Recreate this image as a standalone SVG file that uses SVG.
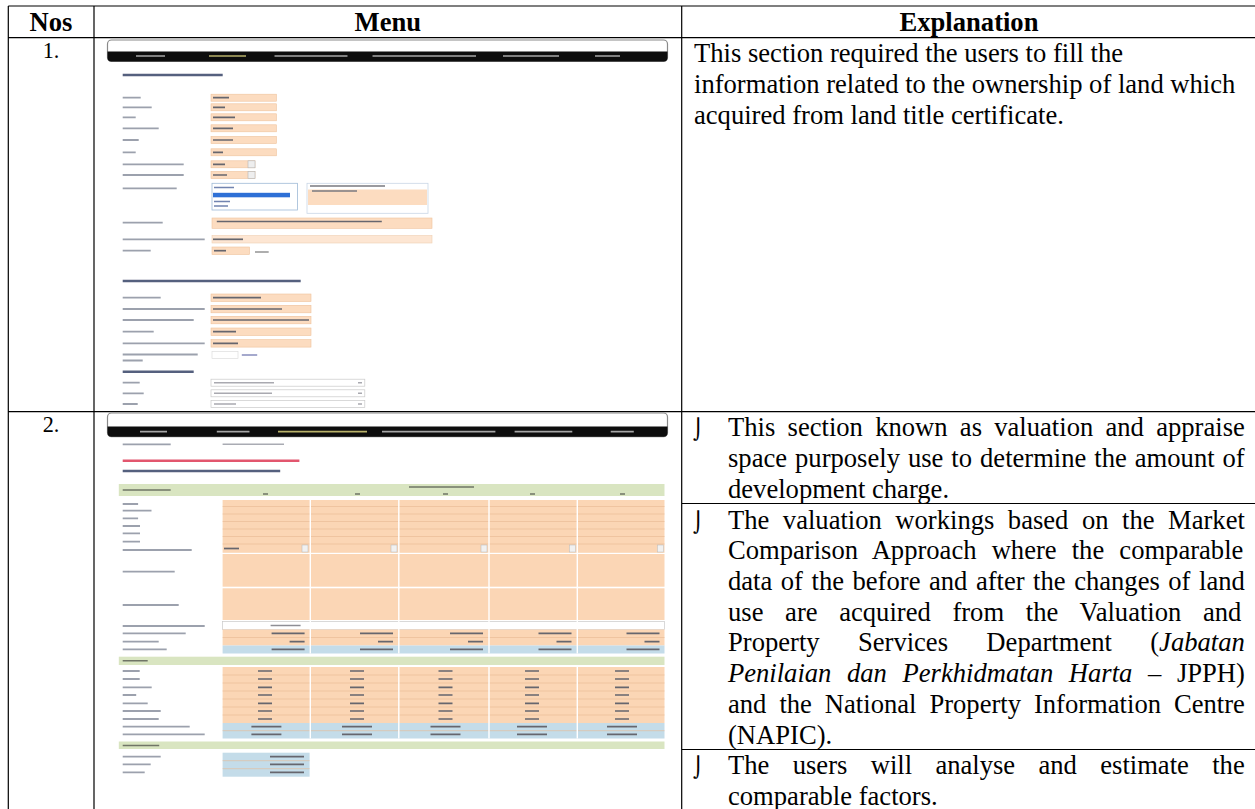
<svg xmlns="http://www.w3.org/2000/svg" width="1255" height="809" viewBox="0 0 1255 809">
<defs>
<style>
.hdr{font-family:"Liberation Serif","Times New Roman",serif;font-weight:bold;font-size:26.6px;text-anchor:middle;fill:#000}
.num{font-family:"Liberation Serif","Times New Roman",serif;font-size:22.2px;text-anchor:middle;fill:#000}
.body{font-family:"Liberation Serif","Times New Roman",serif;font-size:26.6px;fill:#000}
.it{font-style:italic}
.bul{font-family:"DejaVu Sans",sans-serif;font-size:20px;fill:#000}
.grid{stroke:#000;stroke-width:1.2;fill:none}
.lb{stroke:#9ca1ad;stroke-width:1.8;fill:none}
.dk{stroke:#66666e;stroke-width:1.7;fill:none}
.nv{stroke:#a6a6a6;stroke-width:1.7;fill:none}
.nva{stroke:#b9b26a;stroke-width:1.7;fill:none}
.hd{stroke:#55607e;stroke-width:2.4;fill:none}
.pe{fill:#fcdcc0;stroke:#efc29c;stroke-width:0.6}
.pg{fill:#fbd6b5}
.bl{fill:#c4dce9}
.gr{fill:#d9e5c1}
.sep{stroke:#e7b892;stroke-width:0.6;fill:none}
.wb{fill:#fff;stroke:#c9c9c9;stroke-width:0.7}
</style>
<filter id="soft" x="-2%" y="-2%" width="104%" height="104%"><feGaussianBlur stdDeviation="0.7"/></filter>
</defs>

<rect width="1255" height="809" fill="#fff"/>

<!-- table rules -->
<g id="table-grid" class="grid">
<path d="M8.3 6H1256M8.3 37.7H1256M8.3 411.7H1256M8.3 6V809M94 6V809M681.7 6V809M681.7 503.5H1256M681.7 749.5H1256"/>
</g>

<!-- header row -->
<g id="header">
<text class="hdr" x="51" y="30.7">Nos</text>
<text class="hdr" x="387.8" y="30.7">Menu</text>
<text class="hdr" x="969" y="30.7">Explanation</text>
</g>

<!-- row 1 -->
<g id="row-1">
<text class="num" x="51" y="58.3">1.</text>
<g id="menu-1-screenshot" filter="url(#soft)">
<!-- navigation bar -->
<rect x="107.5" y="40" width="560" height="21.5" rx="4" fill="#fff" stroke="#8a8a8a" stroke-width="1.2"/>
<path d="M107.5 51.5H667.5V57.5Q667.5 61.5 663.5 61.5H111.5Q107.5 61.5 107.5 57.5Z" fill="#0c0c0c"/>
<path class="nv" d="M136 56h29M274.5 56h73M372.5 56h103.5M503 56h56M595 56h25"/>
<path class="nva" d="M209 56h37"/>
<!-- section heading -->
<path class="hd" d="M122.7 75h100"/>
<!-- field labels -->
<path class="lb" d="M122.7 97.7h18M122.7 107.3h29M122.7 117.3h13M122.7 128.3h36M122.7 140h16M122.7 152.3h13M122.7 164.3h61M122.7 175h61M122.7 188.3h54M122.7 222.7h40M122.7 239.3h82M122.7 250.7h28M122.7 297.7h38M122.7 309h82M122.7 320h71M122.7 331.7h31M122.7 343.3h82M122.7 354.5h75M122.7 360.5h20M122.7 382.7h17M122.7 393.3h21M122.7 404h15"/>
<!-- input fields -->
<rect class="pe" x="211" y="94.2" width="65.4" height="7"/>
<rect class="pe" x="211" y="103.8" width="65.4" height="7"/>
<rect class="pe" x="211" y="113.8" width="65.4" height="7"/>
<rect class="pe" x="211" y="124.8" width="65.4" height="7"/>
<rect class="pe" x="211" y="136.5" width="65.4" height="7"/>
<rect class="pe" x="211" y="148.8" width="65.4" height="7"/>
<rect class="pe" x="211" y="160.8" width="44" height="7"/>
<rect class="pe" x="211" y="171.5" width="44" height="7"/>
<rect x="248" y="160.8" width="7" height="7" fill="#eee" stroke="#b5b5b5" stroke-width="0.6"/>
<rect x="248" y="171.5" width="7" height="7" fill="#eee" stroke="#b5b5b5" stroke-width="0.6"/>
<path class="dk" d="M213 97.7h16M213 107.3h12M213 117.3h22M213 128.3h20M213 140h20M213 152.3h10M213 164.3h12M213 175h14"/>
<!-- list box and note box -->
<rect x="212" y="183.3" width="85.5" height="26.7" fill="#fff" stroke="#9fbad6" stroke-width="0.8"/>
<path d="M214 187.5h20M214 201.5h16M214 206h14" stroke="#7284b0" stroke-width="1.6"/>
<rect x="213" y="192.8" width="77" height="4.5" fill="#2f6fd6"/>
<rect x="307" y="183.3" width="121" height="30" fill="#fff" stroke="#c9d6e6" stroke-width="0.8"/>
<rect x="308" y="189.5" width="119" height="15.5" fill="#fcdcc0"/>
<path d="M310 186h75M312 191h45" stroke="#7a7a80" stroke-width="1.5"/>
<!-- remarks and further fields -->
<rect class="pe" x="212" y="218" width="220" height="10.3"/>
<path class="dk" d="M216.8 221.5h165"/>
<rect x="212" y="235.5" width="220" height="7.5" fill="#fde6d3" stroke="#efcfb2" stroke-width="0.6"/>
<path class="dk" d="M213 239.3h30"/>
<rect class="pe" x="212" y="247" width="37.5" height="7.5"/>
<path class="dk" d="M214 250.7h12"/>
<path d="M255 252h13.7" stroke="#8c8c8c" stroke-width="1.4"/>
<!-- second heading -->
<path class="hd" d="M122.7 281h178"/>
<rect class="pe" x="211" y="294" width="100" height="7.5"/>
<rect class="pe" x="211" y="305.3" width="100" height="7.5"/>
<rect class="pe" x="211" y="316.3" width="100" height="7.5"/>
<rect class="pe" x="211" y="328" width="100" height="7.5"/>
<rect class="pe" x="211" y="339.6" width="100" height="7.5"/>
<path class="dk" d="M213 297.7h48M213 309h69M213 320h96M213 331.7h23M213 343.3h25"/>
<rect x="212" y="351.5" width="26" height="7" fill="#fff" stroke="#d8d8d8" stroke-width="0.6"/>
<path d="M241.8 355h15.4" stroke="#8f93c0" stroke-width="1.6"/>
<!-- third heading -->
<path class="hd" d="M122.7 371.7h71"/>
<rect class="wb" x="211" y="379.2" width="153.8" height="7"/>
<rect class="wb" x="211" y="389.8" width="153.8" height="7"/>
<rect class="wb" x="211" y="400.5" width="153.8" height="7"/>
<path d="M214 382.7h60M214 393.3h58M214 404h22M358 382.7h4M358 393.3h4M358 404h4" stroke="#a9a9b0" stroke-width="1.5"/>
</g>
<text class="body" x="694" y="62.4">This section required the users to fill the</text>
<text class="body" x="694" y="93">information related to the ownership of land which</text>
<text class="body" x="694" y="123.6">acquired from land title certificate.</text>
</g>

<!-- row 2 -->
<g id="row-2">
<text class="num" x="51" y="431.7">2.</text>
<g id="menu-2-screenshot" filter="url(#soft)">
<!-- navigation bar -->
<rect x="107.5" y="413" width="560" height="23.7" rx="4" fill="#fff" stroke="#8a8a8a" stroke-width="1.2"/>
<path d="M107.5 426.5H667.5V432.7Q667.5 436.7 663.5 436.7H111.5Q107.5 436.7 107.5 432.7Z" fill="#0c0c0c"/>
<path class="nv" d="M140 431.7h27M216.8 431.7h32.7M382 431.7h113.4M514.6 431.7h57.7M610.7 431.7h23.1"/>
<path class="nva" d="M278 431.7h89"/>
<!-- application number and headings -->
<path class="lb" d="M122.7 444.3h48"/>
<path d="M222.6 444.3h61.4" stroke="#a9abb3" stroke-width="1.6"/>
<path d="M122.7 460.7h176.7" stroke="#e2566e" stroke-width="2.4"/>
<path class="hd" d="M122.7 471h157.5"/>
<!-- comparison table: header band -->
<rect class="gr" x="118.8" y="484" width="545.7" height="12"/>
<path d="M122.7 490h48M409 487h65M263 494h5M355 494h5M443 494h5M530 494h5M620 494h5" stroke="#6f7566" stroke-width="1.5"/>
<!-- peach input areas -->
<rect class="pg" x="222.6" y="500" width="441.9" height="52.8"/>
<rect class="pg" x="222.6" y="554" width="441.9" height="32.7"/>
<rect class="pg" x="222.6" y="588.3" width="441.9" height="31.7"/>
<rect class="wb" x="222.6" y="621.5" width="441.9" height="8"/>
<rect class="pg" x="222.6" y="629.5" width="441.9" height="16"/>
<rect class="bl" x="222.6" y="645.5" width="441.9" height="8"/>
<rect class="gr" x="118.8" y="656.7" width="545.7" height="8.3"/>
<rect class="pg" x="222.6" y="667" width="441.9" height="56"/>
<rect class="bl" x="222.6" y="723" width="441.9" height="15.5"/>
<rect class="gr" x="118.8" y="741.5" width="545.7" height="7.5"/>
<rect class="bl" x="222.6" y="752.7" width="87" height="24"/>
<!-- row rules -->
<path class="sep" d="M222.6 506.5H664.5M222.6 514H664.5M222.6 521.5H664.5M222.6 529H664.5M222.6 536.5H664.5M222.6 544H664.5M222.6 637.5H664.5M222.6 675H664.5M222.6 683H664.5M222.6 691H664.5M222.6 699H664.5M222.6 707H664.5M222.6 715H664.5M222.6 730.7H664.5M222.6 760.7H309.6M222.6 768.7H309.6"/>
<!-- column gaps -->
<path d="M310.3 500V653.5M398.8 500V653.5M489 500V653.5M577.3 500V653.5M310.3 667V738.5M398.8 667V738.5M489 667V738.5M577.3 667V738.5" stroke="#fff" stroke-width="1.4"/>
<!-- drop-down arrows -->
<g fill="#f1f1f1" stroke="#b9b9b9" stroke-width="0.5">
<rect x="302" y="545" width="6" height="7"/><rect x="391" y="545" width="6" height="7"/><rect x="481" y="545" width="6" height="7"/><rect x="569.5" y="545" width="6" height="7"/><rect x="657.5" y="545" width="6" height="7"/>
</g>
<path class="dk" d="M224 548.5h15"/>
<!-- row labels -->
<path class="lb" d="M122.7 504h15.4M122.7 510.7h28.8M122.7 518.3h15.4M122.7 526h17.3M122.7 533.3h17.3M122.7 541.7h17.3M122.7 550h69M122.7 571.7h52M122.7 605h56M122.7 626h82M122.7 633.3h63M122.7 641.7h36M122.7 649.3h44M122.7 671h17M122.7 679h17M122.7 687.3h29M122.7 695h13.5M122.7 703.3h25M122.7 711h38M122.7 719h36M122.7 726.7h67M122.7 734.3h82M122.7 756.7h38M122.7 764.3h28M122.7 772.3h22"/>
<path d="M122.7 660.7h25M122.7 745.5h36.5" stroke="#6f7566" stroke-width="1.6"/>
<!-- figures -->
<path d="M270.6 625.5h30" stroke="#8e8e94" stroke-width="1.5"/>
<path class="dk" d="M271.6 633.3h33M360 633.3h33M450 633.3h33M538.5 633.3h33M626.5 633.3h33M289.6 641.7h15M378 641.7h15M468 641.7h15M556.5 641.7h15M644.5 641.7h15M271.6 649.3h33M360 649.3h33M450 649.3h33M538.5 649.3h33M626.5 649.3h33"/>
<path class="dk" d="M258 671h14M350 671h14M438.5 671h14M525 671h14M615 671h14M258 679h14M350 679h14M438.5 679h14M525 679h14M615 679h14M258 687.3h14M350 687.3h14M438.5 687.3h14M525 687.3h14M615 687.3h14M258 695h14M350 695h14M438.5 695h14M525 695h14M615 695h14M258 703.3h14M350 703.3h14M438.5 703.3h14M525 703.3h14M615 703.3h14M258 711h14M350 711h14M438.5 711h14M525 711h14M615 711h14M258 719h14M350 719h14M438.5 719h14M525 719h14M615 719h14"/>
<path class="dk" d="M251.4 726.7h30M342 726.7h30M430.5 726.7h30M517 726.7h30M607 726.7h30M251.4 734.3h30M342 734.3h30M430.5 734.3h30M517 734.3h30M607 734.3h30M270 756.7h34M270 764.3h34M270 772.3h34"/>
</g>
<g id="explanation-2">
<text class="bul" x="693" y="436.4">⌡</text>
<text class="body" x="728" y="436.4" word-spacing="5.63">This section known as valuation and appraise</text>
<text class="body" x="728" y="467" word-spacing="1.34">space purposely use to determine the amount of</text>
<text class="body" x="728" y="497.6">development charge.</text>
<text class="bul" x="693" y="528.6">⌡</text>
<text class="body" x="728" y="528.6" word-spacing="6.87">The valuation workings based on the Market</text>
<text class="body" x="728" y="559.3" word-spacing="8.47">Comparison Approach where the comparable</text>
<text class="body" x="728" y="590" word-spacing="1.88">data of the before and after the changes of land</text>
<text class="body" x="728" y="620.7" word-spacing="15">use are acquired from the Valuation and</text>
<text class="body" x="728" y="651.4" word-spacing="31.7">Property Services Department (<tspan class="it">Jabatan</tspan></text>
<text class="body" x="728" y="682.1" word-spacing="8.97"><tspan class="it">Penilaian dan Perkhidmatan Harta</tspan> – JPPH)</text>
<text class="body" x="728" y="712.8" word-spacing="6.33">and the National Property Information Centre</text>
<text class="body" x="728" y="743.5">(NAPIC).</text>
<text class="bul" x="693" y="774.2">⌡</text>
<text class="body" x="728" y="774.2" word-spacing="16.7">The users will analyse and estimate the</text>
<text class="body" x="728" y="804.6">comparable factors.</text>
</g>
</g>
</svg>
